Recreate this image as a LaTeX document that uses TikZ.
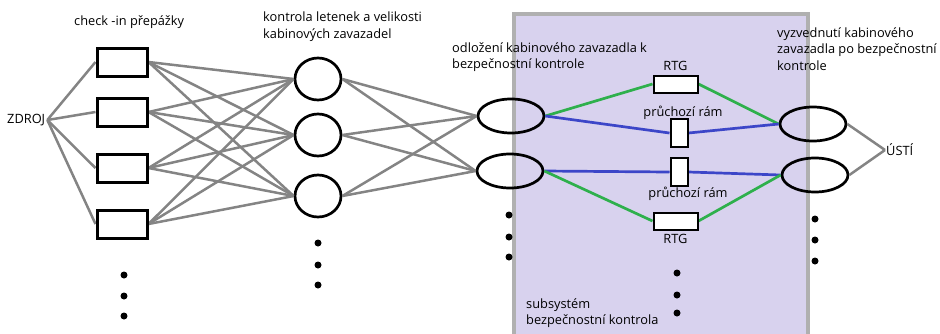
\documentclass[tikz,border=0pt]{standalone}
\usepackage{fontspec}
\setmainfont{Open Sans}
\usetikzlibrary{shapes.geometric}
\definecolor{subfill}{HTML}{D8D2EE}
\definecolor{subborder}{HTML}{B0B0B0}
\definecolor{linegray}{HTML}{848484}
\definecolor{lgreen}{HTML}{2EB04C}
\definecolor{lblue}{HTML}{3C46C8}
\tikzset{
  lbl/.style={font=\fontsize{12.8}{16.5}\selectfont, inner sep=0pt, align=left},
  desk/.style={draw=black, line width=3pt, fill=white, minimum width=50pt, minimum height=28pt, inner sep=0pt},
  ctrl/.style={ellipse, draw=black, line width=2.7pt, minimum width=46pt, minimum height=42pt, inner sep=0pt},
  flat/.style={ellipse, draw=black, line width=2.7pt, minimum width=66pt, minimum height=34pt, inner sep=0pt},
  rtgbox/.style={draw=black, line width=2pt, fill=white, minimum width=44pt, minimum height=17pt, inner sep=0pt},
  frame/.style={draw=black, line width=2pt, fill=white, minimum width=17pt, minimum height=28pt, inner sep=0pt},
  gline/.style={draw=linegray, line width=2.5pt},
  grn/.style={draw=lgreen, line width=2.7pt},
  blu/.style={draw=lblue, line width=2.7pt},
  dotc/.style={circle, fill=black, minimum size=7pt, inner sep=0pt},
}
\begin{document}
\begin{tikzpicture}[x=1pt,y=-1pt]
\useasboundingbox (0,0) rectangle (940,333);
% subsystem background
\node[draw=subborder, line width=3.5pt, fill=subfill, minimum width=294pt, minimum height=340pt, inner sep=0pt, anchor=north west] (sub) at (512,12) {};

% labels
\node[lbl, anchor=west] (zdroj) at (7,120) {ZDROJ};
\node[lbl, anchor=west] (lcheck) at (74,22) {check -in přepážky};
\node[lbl, anchor=north west] (lkontrola) at (263,12) {kontrola letenek a velikosti\\kabinových zavazadel};
\node[lbl, anchor=north west] (lodl) at (452,42) {odložení kabinového zavazadla k\\bezpečnostní kontrole};
\node[lbl, anchor=north west] (lvyz) at (777,27) {vyzvednutí kabinového\\zavazadla po bezpečnostní\\kontrole};
\node[lbl, anchor=north west] (lsub) at (526,298) {subsystém\\bezpečnostní kontrola};
\node[lbl, anchor=west] (usti) at (886,150) {ÚSTÍ};

% check-in desks
\node[desk] (d1) at (122,62) {};
\node[desk] (d2) at (122,112) {};
\node[desk] (d3) at (122,168) {};
\node[desk] (d4) at (122,224) {};

% ticket control ellipses
\node[ctrl] (k1) at (318,79) {};
\node[ctrl] (k2) at (318,135) {};
\node[ctrl] (k3) at (318,196) {};

% deposit ellipses
\node[flat] (o1) at (511,116) {};
\node[flat] (o2) at (510,171) {};

% pickup ellipses
\node[flat] (v1) at (813,124) {};
\node[flat] (v2) at (815,175) {};

% RTG and frames
\node[rtgbox] (r1) at (675.5,84) {};
\node[rtgbox] (r2) at (675.5,221) {};
\node[frame] (f1) at (679,133) {};
\node[frame] (f2) at (679,172) {};
\node[lbl] (lr1) at (675.5,66) {RTG};
\node[lbl] (lr2) at (675.5,239) {RTG};
\node[lbl] (lf1) at (683,113) {průchozí rám};
\node[lbl] (lf2) at (688,194) {průchozí rám};

% connectors: source to desks
\foreach \d in {d1,d2,d3,d4} \draw[gline] ([xshift=2pt]zdroj.east) -- (\d.west);
% desks to controls
\foreach \d in {d1,d2,d3,d4} \foreach \k in {k1,k2,k3} \draw[gline] (\d.east) -- (\k.west);
% controls to deposit
\foreach \k in {k1,k2,k3} \foreach \o in {o1,o2} \draw[gline] (\k.east) -- (\o.west);
% pickup to exit
\draw[gline] (v1.east) -- ([xshift=-1pt]usti.west);
\draw[gline] (v2.east) -- ([xshift=-1pt]usti.west);

% security subsystem connectors
\draw[grn] (o1.east) -- (r1.west);
\draw[grn] (r1.east) -- (v1.west);
\draw[blu] (o1.east) -- (f1.west);
\draw[blu] (f1.east) -- (v1.west);
\draw[blu] (o2.east) -- (f2.west);
\draw[blu] (f2.east) -- (v2.west);
\draw[grn] (o2.east) -- (r2.west);
\draw[grn] (r2.east) -- (v2.west);

% redraw boxes on top of connector ends
\foreach \p in {{122,62},{122,112},{122,168},{122,224}} \node[desk] at (\p) {};
\node[rtgbox] at (675.5,84) {};
\node[rtgbox] at (675.5,221) {};
\node[frame] at (679,133) {};
\node[frame] at (679,172) {};

% dots
\foreach \y in {275,296,316} \node[dotc] at (124,\y) {};
\foreach \y in {243,265,285} \node[dotc] at (318,\y) {};
\foreach \y in {215,237,257} \node[dotc] at (509,\y) {};
\foreach \y in {273,295,313} \node[dotc] at (677,\y) {};
\foreach \y in {219,240,261} \node[dotc] at (815,\y) {};
\end{tikzpicture}
\end{document}
